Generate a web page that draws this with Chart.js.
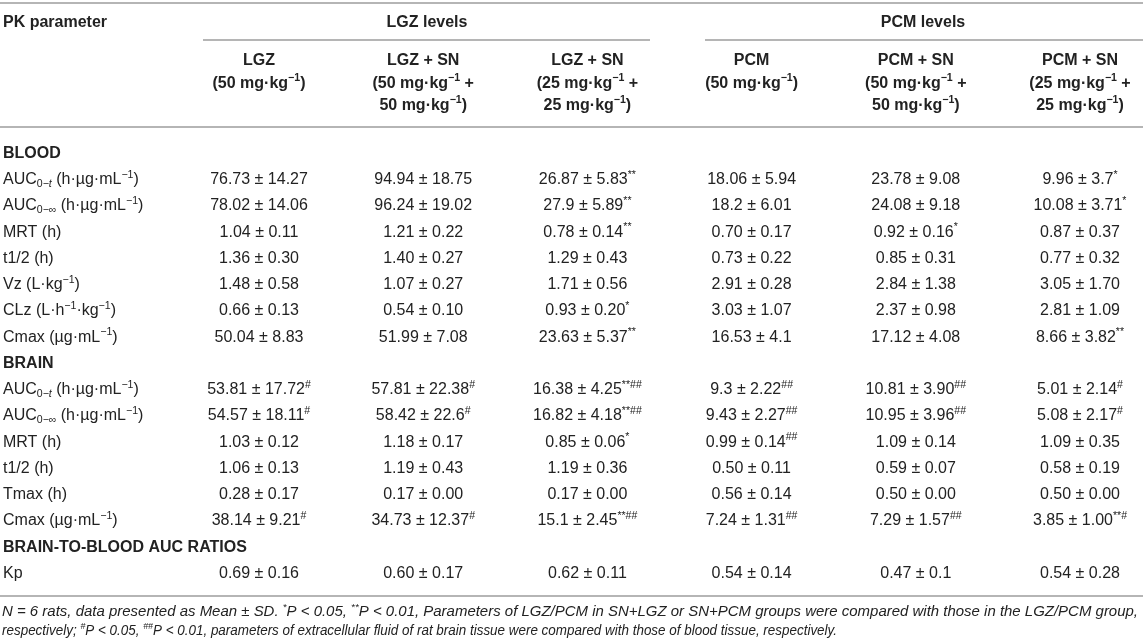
<!DOCTYPE html>
<html>
<head>
<meta charset="utf-8">
<script src="https://cdn.jsdelivr.net/npm/chart.js@4.4.1/dist/chart.umd.min.js"></script>
<style>
  html, body { margin: 0; padding: 0; background: #fff; }
</style>
</head>
<body>
<canvas id="pkTable" width="1143" height="643"></canvas>
<script>
// PK parameters of LGZ / PCM, blood vs brain
// markup: ^{..} superscript, _{..} subscript, _i{..} italic subscript
const groups = ["LGZ levels", "PCM levels"];
const colNames = ["LGZ", "LGZ + SN", "LGZ + SN", "PCM", "PCM + SN", "PCM + SN"];
const doseLine1 = [
  "(50 mg·kg^{−1})", "(50 mg·kg^{−1} +", "(25 mg·kg^{−1} +",
  "(50 mg·kg^{−1})", "(50 mg·kg^{−1} +", "(25 mg·kg^{−1} +",
];
const doseLine2 = ["", "50 mg·kg^{−1})", "25 mg·kg^{−1})", "", "50 mg·kg^{−1})", "25 mg·kg^{−1})"];

const sections = ["BLOOD", "BRAIN", "BRAIN-TO-BLOOD AUC RATIOS"];
const bloodParams = [
  "AUC_{0−}_i{t} (h·µg·mL^{−1})",
  "AUC_{0−∞} (h·µg·mL^{−1})",
  "MRT (h)",
  "t1/2 (h)",
  "Vz (L·kg^{−1})",
  "CLz (L·h^{−1}·kg^{−1})",
  "Cmax (µg·mL^{−1})",
];
const brainParams = [
  "AUC_{0−}_i{t} (h·µg·mL^{−1})",
  "AUC_{0−∞} (h·µg·mL^{−1})",
  "MRT (h)",
  "t1/2 (h)",
  "Tmax (h)",
  "Cmax (µg·mL^{−1})",
];
const ratioParams = ["Kp"];

// values: 7 blood rows, 6 brain rows, Kp
const lgz = [
  "76.73 ± 14.27", "78.02 ± 14.06", "1.04 ± 0.11", "1.36 ± 0.30", "1.48 ± 0.58", "0.66 ± 0.13", "50.04 ± 8.83",
  "53.81 ± 17.72^{#}", "54.57 ± 18.11^{#}", "1.03 ± 0.12", "1.06 ± 0.13", "0.28 ± 0.17", "38.14 ± 9.21^{#}",
  "0.69 ± 0.16",
];
const lgzSn50 = [
  "94.94 ± 18.75", "96.24 ± 19.02", "1.21 ± 0.22", "1.40 ± 0.27", "1.07 ± 0.27", "0.54 ± 0.10", "51.99 ± 7.08",
  "57.81 ± 22.38^{#}", "58.42 ± 22.6^{#}", "1.18 ± 0.17", "1.19 ± 0.43", "0.17 ± 0.00", "34.73 ± 12.37^{#}",
  "0.60 ± 0.17",
];
const lgzSn25 = [
  "26.87 ± 5.83^{**}", "27.9 ± 5.89^{**}", "0.78 ± 0.14^{**}", "1.29 ± 0.43", "1.71 ± 0.56", "0.93 ± 0.20^{*}", "23.63 ± 5.37^{**}",
  "16.38 ± 4.25^{**##}", "16.82 ± 4.18^{**##}", "0.85 ± 0.06^{*}", "1.19 ± 0.36", "0.17 ± 0.00", "15.1 ± 2.45^{**##}",
  "0.62 ± 0.11",
];
const pcm = [
  "18.06 ± 5.94", "18.2 ± 6.01", "0.70 ± 0.17", "0.73 ± 0.22", "2.91 ± 0.28", "3.03 ± 1.07", "16.53 ± 4.1",
  "9.3 ± 2.22^{##}", "9.43 ± 2.27^{##}", "0.99 ± 0.14^{##}", "0.50 ± 0.11", "0.56 ± 0.14", "7.24 ± 1.31^{##}",
  "0.54 ± 0.14",
];
const pcmSn50 = [
  "23.78 ± 9.08", "24.08 ± 9.18", "0.92 ± 0.16^{*}", "0.85 ± 0.31", "2.84 ± 1.38", "2.37 ± 0.98", "17.12 ± 4.08",
  "10.81 ± 3.90^{##}", "10.95 ± 3.96^{##}", "1.09 ± 0.14", "0.59 ± 0.07", "0.50 ± 0.00", "7.29 ± 1.57^{##}",
  "0.47 ± 0.1",
];
const pcmSn25 = [
  "9.96 ± 3.7^{*}", "10.08 ± 3.71^{*}", "0.87 ± 0.37", "0.77 ± 0.32", "3.05 ± 1.70", "2.81 ± 1.09", "8.66 ± 3.82^{**}",
  "5.01 ± 2.14^{#}", "5.08 ± 2.17^{#}", "1.09 ± 0.35", "0.58 ± 0.19", "0.50 ± 0.00", "3.85 ± 1.00^{**#}",
  "0.54 ± 0.28",
];

const footnote = [
  "N = 6 rats, data presented as Mean ± SD. ^{*}P < 0.05, ^{**}P < 0.01, Parameters of LGZ/PCM in SN+LGZ or SN+PCM groups were compared with those in the LGZ/PCM group,",
  "respectively; ^{#}P < 0.05, ^{##}P < 0.01, parameters of extracellular fluid of rat brain tissue were compared with those of blood tissue, respectively.",
];
const footnoteWidths = [1136, 835];

// ---- build rows / columns ----
const columnValues = [lgz, lgzSn50, lgzSn25, pcm, pcmSn50, pcmSn25];
const colKeys = colNames.map((n, i) => "c" + i);
const rowKeys = [];
const rowText = [];
const valueRowKeys = [];
[bloodParams, brainParams, ratioParams].forEach((params, s) => {
  rowKeys.push("s" + s);
  rowText.push({ text: sections[s], bold: true });
  params.forEach((p, i) => {
    const key = "s" + s + "r" + i;
    rowKeys.push(key);
    rowText.push({ text: p, bold: false });
    valueRowKeys.push(key);
  });
});

// ---- rich text helpers ----
const FONT = '"Liberation Sans", Arial, Helvetica, sans-serif';
const INK = "#222";
const RULE = "#b5b5b5";

function segments(str) {
  const out = [];
  const re = /([\^_])(i?)\{([^}]*)\}/g;
  let last = 0, m;
  while ((m = re.exec(str))) {
    if (m.index > last) out.push({ t: str.slice(last, m.index), pos: 0, it: false });
    out.push({ t: m[3], pos: m[1] === "^" ? 1 : -1, it: m[2] === "i" });
    last = re.lastIndex;
  }
  if (last < str.length) out.push({ t: str.slice(last), pos: 0, it: false });
  return out;
}

function fontFor(seg, base) {
  const size = seg.pos ? base.size * 0.66 : base.size;
  return (base.italic || seg.it ? "italic " : "") + (base.bold ? "bold " : "") + size + "px " + FONT;
}

function measureRich(ctx, str, base) {
  let w = 0;
  segments(str).forEach(s => { ctx.font = fontFor(s, base); w += ctx.measureText(s.t).width; });
  return w;
}

function drawRich(ctx, str, x, y, align, base) {
  const segs = segments(str);
  let w = 0;
  segs.forEach(s => { ctx.font = fontFor(s, base); s.w = ctx.measureText(s.t).width; w += s.w; });
  let cx = align === "center" ? x - w / 2 : x;
  const baseY = y + base.size * 0.36;
  ctx.textAlign = "left";
  ctx.textBaseline = "alphabetic";
  ctx.fillStyle = INK;
  segs.forEach(s => {
    ctx.font = fontFor(s, base);
    const dy = s.pos === 1 ? -base.size * 0.4 : s.pos === -1 ? base.size * 0.2 : 0;
    ctx.fillText(s.t, cx, baseY + dy);
    cx += s.w;
  });
}

function rule(ctx, x1, x2, y) {
  ctx.beginPath();
  ctx.moveTo(x1, y);
  ctx.lineTo(x2, y);
  ctx.stroke();
}

const tablePlugin = {
  id: "tableText",
  afterDatasetsDraw(chart) {
    const ctx = chart.ctx;
    const W = chart.width;
    const xs = chart.scales.x, ys = chart.scales.y;
    const colX = colKeys.map((k, i) => xs.getPixelForValue(i));
    const body = { size: 16 };
    const head = { size: 16, bold: true };
    ctx.save();

    // rules
    ctx.strokeStyle = RULE;
    ctx.lineWidth = 2;
    rule(ctx, 0, W, 3);
    rule(ctx, 203, 650, 40);
    rule(ctx, 705, W, 40);
    rule(ctx, 0, W, 127);
    rule(ctx, 0, W, 596);

    // header
    drawRich(ctx, "PK parameter", 3, 21, "left", head);
    drawRich(ctx, groups[0], 427, 21, "center", head);
    drawRich(ctx, groups[1], 923, 21, "center", head);
    colNames.forEach((n, i) => {
      drawRich(ctx, n, colX[i], 59, "center", head);
      drawRich(ctx, doseLine1[i], colX[i], 82, "center", head);
      if (doseLine2[i]) drawRich(ctx, doseLine2[i], colX[i], 104, "center", head);
    });

    // row labels
    rowKeys.forEach((k, i) => {
      const y = ys.getPixelForValue(i);
      drawRich(ctx, rowText[i].text, 3, y, "left", rowText[i].bold ? head : body);
    });

    // cell values from the dataset points
    chart.data.datasets.forEach((ds, c) => {
      chart.getDatasetMeta(c).data.forEach((pt, i) => {
        drawRich(ctx, ds.cells[i], pt.x, pt.y, "center", body);
      });
    });

    // footnote: condensed italic lines
    const fn = { size: 14, italic: true };
    [611, 630].forEach((y, i) => {
      const sx = footnoteWidths[i] / measureRich(ctx, footnote[i], fn);
      ctx.save();
      ctx.translate(2, y);
      ctx.scale(sx, 1);
      drawRich(ctx, footnote[i], 0, 0, "left", fn);
      ctx.restore();
    });
    ctx.restore();
  },
};

new Chart(document.getElementById("pkTable"), {
  type: "scatter",
  data: {
    datasets: columnValues.map((vals, c) => ({
      label: colNames[c],
      cells: vals,
      data: vals.map((v, i) => ({ x: colKeys[c], y: valueRowKeys[i] })),
      pointRadius: 0,
      pointHoverRadius: 0,
    })),
  },
  options: {
    responsive: false,
    animation: false,
    events: [],
    layout: { padding: { left: 259, right: 63, top: 152, bottom: 71 } },
    plugins: { legend: { display: false }, tooltip: { enabled: false } },
    scales: {
      x: { type: "category", labels: colKeys, offset: false, display: false },
      y: { type: "category", labels: rowKeys, offset: false, display: false },
    },
  },
  plugins: [tablePlugin],
});
</script>
</body>
</html>
